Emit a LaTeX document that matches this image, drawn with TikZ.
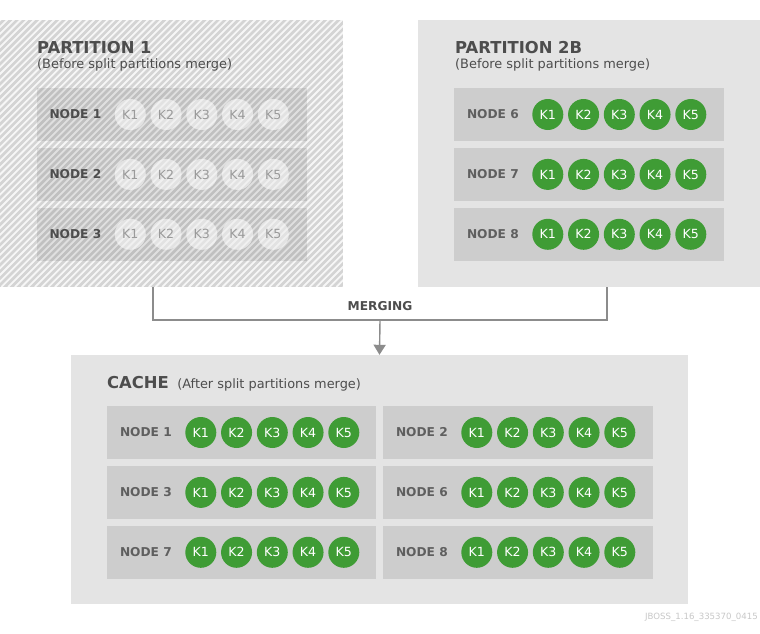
\documentclass[tikz,border=0pt]{standalone}
\usepackage{fontspec}
\setmainfont{DejaVu Sans}
\usetikzlibrary{positioning,arrows.meta}
\definecolor{panelgray}{HTML}{E4E4E4}
\definecolor{hatchgray}{HTML}{D4D4D4}
\definecolor{rowgray}{HTML}{CDCDCD}
\definecolor{keygreen}{HTML}{3F9C35}
\definecolor{inkgray}{HTML}{4D4D4D}
\definecolor{ghostgray}{HTML}{9A9A9A}
\definecolor{wiregray}{HTML}{8C8C8C}
\definecolor{taggray}{HTML}{C8C8C8}

\tikzset{
  panel/.style={inner sep=0pt, fill=panelgray},
  noderow/.style={inner sep=0pt, fill=rowgray, minimum width=270pt, minimum height=53pt},
  ghostrow/.style={noderow, fill=black, fill opacity=0.09},
  keygood/.style={circle, inner sep=0pt, minimum size=31pt, text height=9.2pt, text depth=0pt,
    fill=keygreen, text=white, font=\fontsize{12.6}{14}\selectfont},
  keyghost/.style={keygood, fill=white, fill opacity=0.55, text opacity=1, text=ghostgray},
  lblbold/.style={inner sep=0pt, text=inkgray, font=\bfseries\fontsize{12.2}{14}\selectfont},
  lblmid/.style={lblbold, text=inkgray!90},
  title/.style={inner sep=0pt, anchor=base west, text=inkgray, font=\bfseries\fontsize{16.4}{18}\selectfont},
  subtitle/.style={inner sep=0pt, anchor=base west, text=inkgray, font=\fontsize{12.9}{15}\selectfont},
  hatch/.style={white, opacity=0.8, line width=1.8pt},
  wire/.style={wiregray, line width=1.4pt}
}

% one row: label, then five keys
\newcommand\keyrow[4]{%
  \node[#4, anchor=west] (#1-lbl) at ([xshift=13pt]#1.west) {NODE #3};
  \foreach \k in {1,...,5}
    \node[#2] (#1-k\k) at ([xshift=58.25pt+35.75pt*\k]#1.west) {K\k};
}

\begin{document}
\begin{tikzpicture}[x=1pt,y=-1pt]
  \useasboundingbox[fill=white] (0,0) rectangle (760,634);

  % partition 1 (hatched)
  \node[panel, fill=hatchgray, minimum width=343pt, minimum height=267pt] (p1) at (171.5,153.5) {};
  \begin{scope}
    \clip (p1.north west) rectangle (p1.south east);
    \foreach \s in {0,6.7,...,640}
      \draw[hatch] (\s-280,287) -- ++(280,-280);
  \end{scope}
  \node[title] (p1t) at (37,53.5) {PARTITION 1};
  \node[subtitle] (p1s) at (37,68) {(Before split partitions merge)};
  \node[ghostrow] (p1n1) at (171.5,114.5) {};
  \node[ghostrow, below=6.5pt of p1n1] (p1n2) {};
  \node[ghostrow, below=6.5pt of p1n2] (p1n3) {};
  \keyrow{p1n1}{keyghost}{1}{lblbold}
  \keyrow{p1n2}{keyghost}{2}{lblbold}
  \keyrow{p1n3}{keyghost}{3}{lblbold}

  % partition 2B
  \node[panel, minimum width=342pt, minimum height=267pt] (p2b) at (589,153.5) {};
  \node[title] (p2t) at (455,53.5) {PARTITION 2B};
  \node[subtitle] (p2s) at (455,68) {(Before split partitions merge)};
  \node[noderow] (p2n6) at (589,114.5) {};
  \node[noderow, below=6.5pt of p2n6] (p2n7) {};
  \node[noderow, below=6.5pt of p2n7] (p2n8) {};
  \keyrow{p2n6}{keygood}{6}{lblmid}
  \keyrow{p2n7}{keygood}{7}{lblmid}
  \keyrow{p2n8}{keygood}{8}{lblmid}

  % merged cache
  \node[panel, minimum width=617pt, minimum height=249pt] (cache) at (379.5,479.5) {};
  \node[title] (ct) at (107,388.5) {CACHE};
  \node[subtitle] (cs) at ([xshift=8pt]ct.base east) {(After split partitions merge)};
  \node[noderow, minimum width=269pt] (cn1) at (241.5,432.5) {};
  \node[noderow, minimum width=269pt, below=6.5pt of cn1] (cn3) {};
  \node[noderow, minimum width=269pt, below=6.5pt of cn3] (cn7) {};
  \node[noderow] (cn2) at (518,432.5) {};
  \node[noderow, below=6.5pt of cn2] (cn6) {};
  \node[noderow, below=6.5pt of cn6] (cn8) {};
  \keyrow{cn1}{keygood}{1}{lblmid}
  \keyrow{cn3}{keygood}{3}{lblmid}
  \keyrow{cn7}{keygood}{7}{lblmid}
  \keyrow{cn2}{keygood}{2}{lblmid}
  \keyrow{cn6}{keygood}{6}{lblmid}
  \keyrow{cn8}{keygood}{8}{lblmid}

  % merging
  \coordinate (mrg) at (380,320);
  \node[inner sep=0pt, text=inkgray, font=\bfseries\fontsize{12.2}{14}\selectfont] (mrglbl) at (380,306) {MERGING};
  \draw[wire] ([xshift=-18.5pt]p1.south) |- (mrg) -| ([xshift=18pt]p2b.south);
  \draw[wire, -{Triangle[width=12pt,length=10pt]}] (mrg) -- (cache.north);

  \node[inner sep=0pt, anchor=base east, text=taggray, font=\fontsize{8.6}{10}\selectfont] (tag) at (758,619.5) {JBOSS\_1.16\_335370\_0415};
\end{tikzpicture}
\end{document}
